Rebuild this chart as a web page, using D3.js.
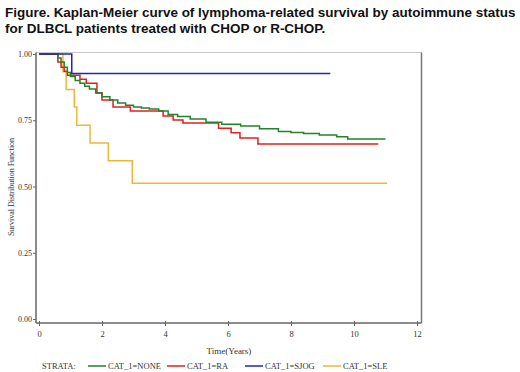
<!DOCTYPE html>
<html>
<head>
<meta charset="utf-8">
<script src="https://cdn.jsdelivr.net/npm/d3@7"></script>
<style>
    body { margin: 0; background: #fff; }
    svg { display: block; }
</style>
</head>
<body>
<div id="chart"></div>
<script>
// survival curves: [time (years), survival]
const noneTimes = [0, 0.5, 0.6, 0.7, 0.8, 0.9, 1.0, 1.15, 1.3, 1.45, 1.6, 1.8, 2.0, 2.25, 2.5, 2.75, 3.0, 3.25, 3.5, 3.8, 4.1, 4.4, 4.8, 5.3, 5.8, 6.4, 7.0, 7.6, 8.0, 8.4, 8.9, 9.45, 9.8, 11.0]
const noneSurv = [1.0, 1.0, 0.985, 0.97, 0.95, 0.93, 0.915, 0.9, 0.89, 0.878, 0.868, 0.853, 0.839, 0.826, 0.815, 0.807, 0.80, 0.796, 0.792, 0.785, 0.772, 0.764, 0.755, 0.742, 0.735, 0.728, 0.718, 0.708, 0.704, 0.70, 0.694, 0.688, 0.679, 0.679]

const raTimes = [0, 0.6, 0.7, 0.8, 0.9, 1.3, 1.5, 1.84, 2.0, 2.35, 2.9, 3.94, 4.26, 4.57, 5.7, 6.1, 6.38, 6.95, 10.77]
const raSurv = [1.0, 0.97, 0.95, 0.935, 0.92, 0.905, 0.89, 0.853, 0.826, 0.80, 0.785, 0.766, 0.751, 0.74, 0.72, 0.703, 0.683, 0.66, 0.66]

const sjogTimes = [0, 1.04, 9.25]
const sjogSurv = [1.0, 0.926, 0.926]

const sleTimes = [0, 0.76, 0.86, 1.12, 1.2, 1.62, 2.2, 2.96, 11.05]
const sleSurv = [1.0, 0.933, 0.866, 0.80, 0.731, 0.664, 0.597, 0.512, 0.512]

const strata = ['CAT_1=NONE', 'CAT_1=RA', 'CAT_1=SJOG', 'CAT_1=SLE']
const strataColors = ['#23822a', '#e0201e', '#2424b4', '#ecb83a']

const xTicks = [0, 2, 4, 6, 8, 10, 12]
const yTicks = [0, 0.25, 0.5, 0.75, 1.0]

const titleLines = [
    'Figure. Kaplan-Meier curve of lymphoma-related survival by autoimmune status',
    'for DLBCL patients treated with CHOP or R-CHOP.'
]

const width = 520, height = 372
const serif = "'Liberation Serif', 'DejaVu Serif', serif"

const svg = d3.select('#chart').append('svg')
    .attr('width', width)
    .attr('height', height)

// title - fit the first line to the width seen in the picture
const titles = svg.selectAll('.title')
    .data(titleLines)
    .enter()
    .append('text')
    .attr('class', 'title')
    .attr('x', 5)
    .attr('y', (d, i) => 17 + i * 16)
    .attr('font-family', "'Liberation Sans', Arial, sans-serif")
    .attr('font-weight', 'bold')
    .attr('font-size', 14)
    .attr('fill', '#111')
    .text(d => d)
const firstLen = titles.node().getComputedTextLength()
const titleSize = 14 * 511 / firstLen
titles.attr('font-size', titleSize)

// scales
const x = d3.scaleLinear().domain([0, 12]).range([39, 417])
const y = d3.scaleLinear().domain([0, 1]).range([319, 54])
const frame = { left: 36, right: 421.5, top: 52.5, bottom: 323 }

// frame: top light, right dark
svg.append('line')
    .attr('x1', frame.left).attr('x2', frame.right)
    .attr('y1', frame.top).attr('y2', frame.top)
    .attr('stroke', '#c8c8c8').attr('stroke-width', 1)
svg.append('line')
    .attr('x1', frame.right).attr('x2', frame.right)
    .attr('y1', frame.top).attr('y2', frame.bottom)
    .attr('stroke', '#777').attr('stroke-width', 1.5)

// y axis
const yAxis = svg.append('g')
    .attr('transform', `translate(${frame.left},0)`)
    .call(d3.axisLeft(y).tickValues(yTicks).tickFormat(d3.format('.2f')).tickSize(3).tickSizeOuter(0))
yAxis.select('.domain').attr('d', `M0,${frame.top}V${frame.bottom}`).attr('stroke', '#666').attr('stroke-width', 1.5)
yAxis.selectAll('.tick line').attr('stroke', '#666')
yAxis.selectAll('.tick text')
    .attr('font-family', serif).attr('font-size', 8).attr('fill', '#333').attr('x', -4)

// x axis
const xAxis = svg.append('g')
    .attr('transform', `translate(0,${frame.bottom})`)
    .call(d3.axisBottom(x).tickValues(xTicks).tickSize(3).tickSizeOuter(0))
xAxis.select('.domain').attr('d', `M${frame.left},0H${frame.right}`).attr('stroke', '#666').attr('stroke-width', 1.5)
xAxis.selectAll('.tick line').attr('stroke', '#666').attr('y1', -2)
xAxis.selectAll('.tick text')
    .attr('font-family', serif).attr('font-size', 8.5).attr('fill', '#333').attr('y', 8)

// axis titles
svg.append('text')
    .attr('x', 229).attr('y', 354)
    .attr('text-anchor', 'middle')
    .attr('font-family', serif).attr('font-size', 9).attr('fill', '#333')
    .text('Time(Years)')
svg.append('text')
    .attr('transform', 'translate(14,187) rotate(-90)')
    .attr('text-anchor', 'middle')
    .attr('font-family', serif).attr('font-size', 8).attr('fill', '#333')
    .text('Survival Distribution Function')

// curves
const curves = [
    { times: noneTimes, surv: noneSurv },
    { times: raTimes, surv: raSurv },
    { times: sjogTimes, surv: sjogSurv },
    { times: sleTimes, surv: sleSurv }
]
const line = d3.line()
    .x(d => x(d[0]))
    .y(d => y(d[1]))
    .curve(d3.curveStepAfter)

// draw SLE first, then the others on top
const order = [3, 1, 0, 2]
order.forEach(i => {
    const c = curves[i]
    svg.append('path')
        .datum(c.times.map((t, k) => [t, c.surv[k]]))
        .attr('fill', 'none')
        .attr('stroke', strataColors[i])
        .attr('stroke-width', 1.5)
        .attr('d', line)
})

// legend
const legendY = 366
svg.append('text')
    .attr('x', 42).attr('y', legendY + 3)
    .attr('font-family', serif).attr('font-size', 8.5).attr('fill', '#333')
    .text('STRATA:')
const legendX = [88, 167, 245, 323]
strata.forEach((s, i) => {
    svg.append('line')
        .attr('x1', legendX[i]).attr('x2', legendX[i] + 18)
        .attr('y1', legendY).attr('y2', legendY)
        .attr('stroke', strataColors[i]).attr('stroke-width', 1.5)
    svg.append('text')
        .attr('x', legendX[i] + 20).attr('y', legendY + 3)
        .attr('font-family', serif).attr('font-size', 8.5).attr('fill', '#333')
        .text(s)
})
</script>
</body>
</html>
